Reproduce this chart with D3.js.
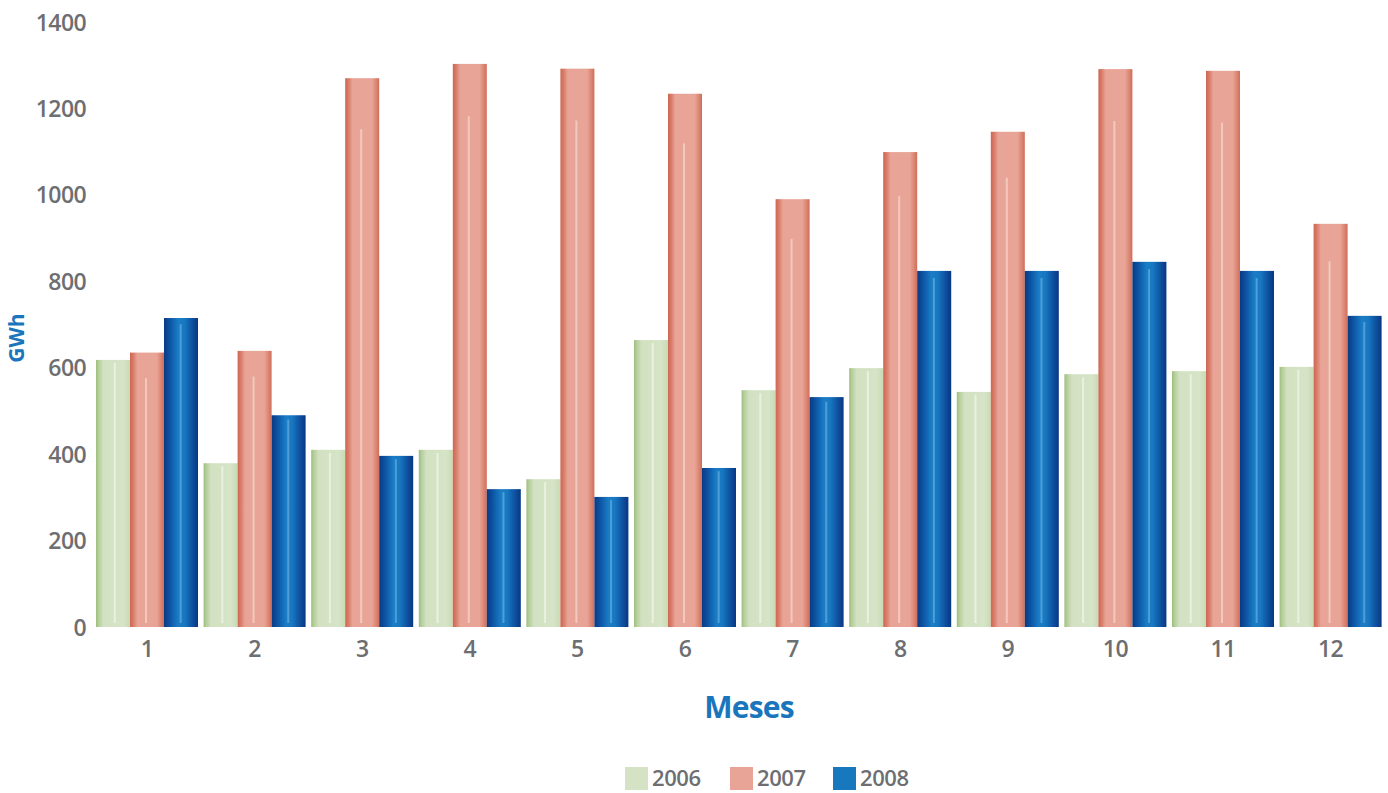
<!DOCTYPE html>
<html>
<head>
<meta charset="utf-8">
<script src="https://cdn.jsdelivr.net/npm/d3@7"></script>
<style>
  html, body { margin: 0; padding: 0; background: #ffffff; }
  svg { display: block; }
</style>
</head>
<body>
<svg id="chart" width="1388" height="793"></svg>
<script>
// ---- Data ----
const months = ["1","2","3","4","5","6","7","8","9","10","11","12"];
const seriesNames = ["2006","2007","2008"];
const values2006 = [618, 379, 410, 410, 342, 664, 548, 599, 544, 585, 592, 602];
const values2007 = [635, 639, 1270, 1303, 1292, 1234, 990, 1099, 1146, 1291, 1287, 933];
const values2008 = [715, 490, 396, 319, 301, 368, 532, 824, 824, 845, 824, 720];
const yTicks = [0, 200, 400, 600, 800, 1000, 1200, 1400];

const seriesValues = [values2006, values2007, values2008];

const svg = d3.select("#chart");
const defs = svg.append("defs");

const font = "'Open Sans', 'Noto Sans', sans-serif";
const tickColor = "#6d6e71";
const blue = "#1a75bc";

// Gradients per series
const gradSpecs = [
  { id: "g2006", stops: [[0,"#9dbd7e"],[0.07,"#b3cd98"],[0.22,"#d2e1c1"],[0.8,"#d6e4c7"],[1,"#c9dab4"]],
    hl: "#eef4e7", hlOp: 0.8, hlOff: 0.01, hlPos: 0.55, legend: "#d5e3c4" },
  { id: "g2007", stops: [[0,"#cd6652"],[0.1,"#d97d6a"],[0.22,"#e8a597"],[0.78,"#e8a597"],[0.9,"#dc8875"],[1,"#d06d5a"]],
    hl: "#f4cfc6", hlOp: 0.85, hlOff: 0.093, hlPos: 0.47, legend: "#e8a597" },
  { id: "g2008", stops: [[0,"#0a3983"],[0.18,"#0d55a5"],[0.42,"#1a7dc6"],[0.6,"#1878c1"],[0.85,"#0d4d9c"],[1,"#093782"]],
    hl: "#62aade", hlOp: 0.75, hlOff: 0.02, hlPos: 0.49, legend: "#1878be" }
];
gradSpecs.forEach(g => {
  const lg = defs.append("linearGradient").attr("id", g.id)
    .attr("x1", 0).attr("x2", 1).attr("y1", 0).attr("y2", 0);
  g.stops.forEach(s => lg.append("stop").attr("offset", s[0]).attr("stop-color", s[1]));
});

// ---- Scales ----
const x0 = d3.scaleBand().domain(months).range([93.2, 1384.4]).paddingInner(0.052).paddingOuter(0.026);
const x1 = d3.scaleBand().domain(seriesNames).range([0, x0.bandwidth()]).padding(0);
const y = d3.scaleLinear().domain([0, 1400]).range([627, 22]);

// ---- Y axis ----
const yAxis = d3.axisLeft(y).tickValues(yTicks).tickSize(0).tickPadding(0).tickFormat(d3.format("d"));
const gy = svg.append("g").attr("transform", "translate(86,0)").call(yAxis);
gy.select(".domain").remove();
gy.selectAll("text")
  .attr("fill", tickColor).attr("font-family", font).attr("font-size", 23)
  .attr("font-weight", 600).attr("letter-spacing", -0.6).attr("dy", "0.35em");

// ---- X axis ----
const xAxis = d3.axisBottom(x0).tickSize(0).tickPadding(0);
const gx = svg.append("g").attr("transform", "translate(0,641)").call(xAxis);
gx.select(".domain").remove();
gx.selectAll("text")
  .attr("fill", tickColor).attr("font-family", font).attr("font-size", 23)
  .attr("font-weight", 600).attr("letter-spacing", -0.6).attr("dy", "0.71em");

// ---- Bars ----
const groups = svg.append("g").selectAll("g.month")
  .data(months).join("g").attr("class", "month")
  .attr("transform", d => `translate(${x0(d)},0)`);

seriesNames.forEach((s, si) => {
  const spec = gradSpecs[si];
  groups.append("rect")
    .attr("x", x1(s))
    .attr("y", (d, i) => y(seriesValues[si][i]))
    .attr("width", x1.bandwidth())
    .attr("height", (d, i) => y(0) - y(seriesValues[si][i]))
    .attr("fill", `url(#${spec.id})`);
  // glossy highlight streak
  groups.append("rect")
    .attr("x", x1(s) + x1.bandwidth() * spec.hlPos - 1)
    .attr("y", (d, i) => {
      const h = y(0) - y(seriesValues[si][i]);
      return y(seriesValues[si][i]) + Math.max(3, h * spec.hlOff);
    })
    .attr("width", 2)
    .attr("height", (d, i) => {
      const h = y(0) - y(seriesValues[si][i]);
      return Math.max(0, h - Math.max(3, h * spec.hlOff) - 4);
    })
    .attr("fill", spec.hl).attr("opacity", spec.hlOp);
});

// ---- Axis titles ----
svg.append("text")
  .attr("transform", "translate(24,338) rotate(-90)")
  .attr("text-anchor", "middle")
  .attr("font-family", font).attr("font-size", 21).attr("font-weight", 700)
  .attr("fill", blue).text("GWh");

svg.append("text")
  .attr("x", 749).attr("y", 718)
  .attr("text-anchor", "middle")
  .attr("font-family", font).attr("font-size", 30).attr("font-weight", 700)
  .attr("letter-spacing", -0.8)
  .attr("fill", blue).text("Meses");

// ---- Legend ----
const legendX = [625, 730, 833];
const legend = svg.append("g").selectAll("g")
  .data(seriesNames).join("g")
  .attr("transform", (d, i) => `translate(${legendX[i]},767)`);
legend.append("rect").attr("width", 23).attr("height", 23)
  .attr("fill", (d, i) => gradSpecs[i].legend);
legend.append("text")
  .attr("x", 27).attr("y", 19)
  .attr("font-family", font).attr("font-size", 22).attr("font-weight", 600)
  .attr("letter-spacing", -0.4)
  .attr("fill", tickColor).text(d => d);
</script>
</body>
</html>
